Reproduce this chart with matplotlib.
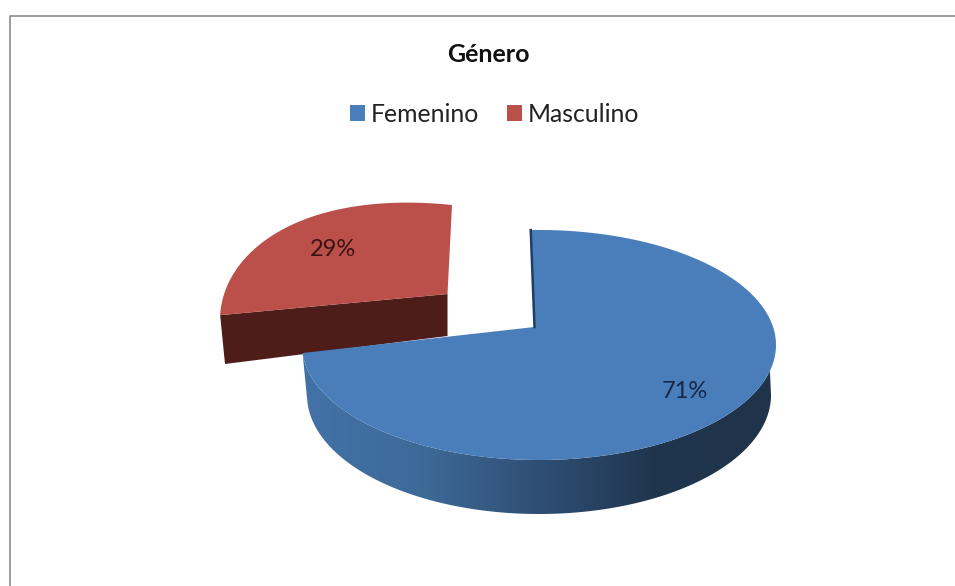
import numpy as np
import matplotlib
matplotlib.use("Agg")
import matplotlib.pyplot as plt
from matplotlib.patches import Polygon, Patch
from matplotlib.colors import to_rgb

categories = ["Femenino", "Masculino"]
values = [71, 29]
labels = ["71%", "29%"]
title = "Género"

colors = ["#4a7ebb", "#bb4f4a"]
plt.rcParams["font.family"] = ["Lato", "DejaVu Sans"]

W, H = 955, 586
fig = plt.figure(figsize=(W / 100, H / 100), dpi=100)
ax = fig.add_axes([0, 0, 1, 1])
ax.axis("off")

# chart frame: only top and left edges are visible
ax.plot([W, 9.5, 9.5], [15.5, 15.5, H], color="#8c8c8c", lw=1.2, zorder=1)


def ell(cx, cy, rx, ry, deg):
    t = np.radians(deg)
    return np.column_stack([cx + rx * np.sin(t), cy - ry * np.cos(t)])


# perspective warp of the swept angle for each slice
warp = [268 / (values[0] * 3.6), 88 / (values[1] * 3.6)]

# --- red slice (exploded)
sweep_r = values[1] * 3.6 * warp[1]
rd = np.linspace(-sweep_r, 0, 120)
apex_r = (447.5, 294)
arc_r = ell(452, 320, 232, 115, rd)
arc_r[:, 1] -= 12 * np.sin(np.radians(-rd * 2))
ax.add_patch(Polygon([arc_r[0], (225, 364), (447.5, 336), apex_r],
                     closed=True, fc="#4f1d19", ec="none", zorder=2))
ax.add_patch(Polygon(np.vstack([arc_r, [apex_r]]), closed=True,
                     fc=colors[1], ec="none", zorder=3))

# --- blue slice
sweep_b = values[0] * 3.6 * warp[0]
start = -2.0
end = start + sweep_b
bd = np.linspace(start, end, 400)
top = ell(539, 345, 237, 115, bd)
low_arc = ell(539, 395, 232, 119, np.linspace(90, end, 300))
top_arc = ell(539, 345, 237, 115, np.linspace(end, 103, 300))
rim = Polygon(np.vstack([low_arc, top_arc]), closed=True, fc="none", ec="none",
              transform=ax.transData)
ax.add_patch(rim)

# rim shading, left to right
shade_x = np.linspace(302, 776, 256)
stop_x = [302, 420, 560, 650, 776]
stop_c = np.array([to_rgb(c) for c in ["#4272a8", "#3e6a99", "#2c4a6e", "#20364f", "#1f3449"]])
shade = np.stack([np.interp(shade_x, stop_x, stop_c[:, k]) for k in range(3)], axis=-1)[None, :, :]
im = ax.imshow(shade, extent=(302, 776, 520, 340), aspect="auto", zorder=4, interpolation="bilinear")
im.set_clip_path(rim)

apex_b = (534.5, 327)
ax.add_patch(Polygon(np.vstack([top, [apex_b]]), closed=True,
                     fc=colors[0], ec="none", zorder=5))
ax.plot([top[0, 0], apex_b[0]], [top[0, 1], apex_b[1]], color="#1f3f68", lw=1.8, zorder=6)

ax.set_xlim(0, W)
ax.set_ylim(H, 0)

# --- labels
ax.text(685, 392, labels[0], ha="center", va="center", fontsize=17, color="#14284a", zorder=7)
ax.text(333, 249, labels[1], ha="center", va="center", fontsize=17, color="#3a1412", zorder=7)
ax.text(488.5, 54, title, ha="center", va="center", fontsize=18, fontweight="bold", color="#111111", zorder=7)

handles = [Patch(fc=c, ec="none", label=n) for c, n in zip(colors, categories)]
leg = ax.legend(handles=handles, ncol=2, frameon=False, fontsize=17.8,
                loc="center", bbox_to_anchor=(494.5 / W, 1 - 114 / H),
                handlelength=0.6, handleheight=0.6, handletextpad=0.22,
                columnspacing=1.15, labelcolor="#222222", borderpad=0)
leg.set_zorder(8)

fig.savefig("out.png", dpi=100, facecolor="white")
